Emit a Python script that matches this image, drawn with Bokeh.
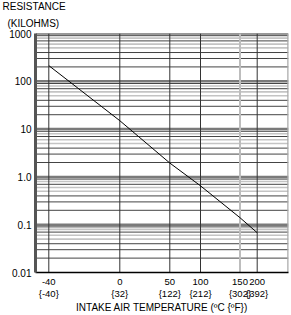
import numpy as np
from bokeh.plotting import figure
from bokeh.models import Span, Title, FixedTicker, LinearAxis, Range1d
from bokeh.embed import file_html
from bokeh.resources import INLINE

# ---- data ----
TEMP_C = [-40, 0, 50, 100, 150, 200]
RESIST_K = [213, 15, 1.95, 0.65, 0.14, 0.068]

# ---- axis definitions ----
TICK_C = [-40, 0, 50, 100, 150, 200]
TICK_C_LABELS = ["-40", "0", "50", "100", "150", "200"]
TICK_F_LABELS = ["{-40}", "{32}", "{122}", "{212}", "{302}", "{392}"]
Y_TICKS = [0.01, 0.1, 1, 10, 100, 1000]
Y_TICK_LABELS = ["0.01", "0.1", "1.0", "10", "100", "1000"]

# non-linear temperature scale of the original chart (position along the frame)
AXIS_POS = [13.3, 84.3, 134.3, 165.0, 204.5, 221.7]
X_SPAN = 253.0

FONT = "Liberation Sans"


def tpos(t):
    return np.interp(t, TICK_C, AXIS_POS)


p = figure(width=291, height=315, y_axis_type="log",
           x_range=Range1d(0, X_SPAN), y_range=Range1d(0.01, 1000),
           output_backend="svg", toolbar_location=None,
           min_border_left=35, min_border_right=3,
           min_border_top=33, min_border_bottom=43)
p.title.visible = False
p.outline_line_color = None
p.xgrid.visible = False
p.ygrid.visible = False
p.background_fill_color = "white"

# horizontal grid lines
GRAY_MINOR = {8, 6, 5}
for dec in [0.01, 0.1, 1, 10, 100]:
    for m in range(2, 10):
        gray = m in GRAY_MINOR
        p.add_layout(Span(location=dec * m, dimension="width", level="underlay",
                          line_color="#c4c4c4" if gray else "#444444",
                          line_width=1.6 if gray else 1))
for dec in [0.1, 1, 10, 100]:
    p.add_layout(Span(location=dec, dimension="width", level="underlay",
                      line_color="#7a7a7a", line_width=2.5))
p.add_layout(Span(location=1000, dimension="width", level="underlay",
                  line_color="#333333", line_width=2))

# vertical grid lines
for t in TICK_C:
    gray = (t == 150)
    p.add_layout(Span(location=float(tpos(t)), dimension="height", level="underlay",
                      line_color="#bdbdbd" if gray else "#333333",
                      line_width=2 if gray else 1))
# right border
p.add_layout(Span(location=X_SPAN, dimension="height", level="underlay",
                  line_color="#aaaaaa", line_width=2.5))

# curve
p.line(tpos(np.array(TEMP_C)), RESIST_K, line_color="black", line_width=1)

# x axes
xpos = [float(v) for v in tpos(np.array(TICK_C))]
ax = p.xaxis[0]
ax.ticker = FixedTicker(ticks=xpos)
ax.major_label_overrides = {v: s for v, s in zip(xpos, TICK_C_LABELS)}
ax.major_tick_line_color = None
ax.minor_tick_line_color = None
ax.major_tick_out = 0
ax.major_tick_in = 0
ax.minor_tick_out = 0
ax.minor_tick_in = 0
ax.axis_line_color = "black"
ax.axis_line_width = 1.5
ax.major_label_standoff = 6
ax.major_label_text_font = FONT
ax.major_label_text_font_size = "9.5px"
ax.major_label_text_color = "black"

ax2 = LinearAxis(ticker=FixedTicker(ticks=xpos),
                 major_label_overrides={v: s for v, s in zip(xpos, TICK_F_LABELS)},
                 axis_line_color=None, major_tick_line_color=None,
                 minor_tick_line_color=None, major_label_standoff=0,
                 major_tick_out=0, major_tick_in=0, minor_tick_out=0, minor_tick_in=0,
                 major_label_text_font=FONT, major_label_text_font_size="9.5px",
                 major_label_text_color="black",
                 axis_label="INTAKE AIR TEMPERATURE (\u00baC {\u00baF})",
                 axis_label_standoff=0, axis_label_text_font=FONT,
                 axis_label_text_font_size="10px",
                 axis_label_text_font_style="normal",
                 axis_label_text_color="black")
p.add_layout(ax2, "below")

# y axis
ay = p.yaxis[0]
ay.ticker = FixedTicker(ticks=Y_TICKS)
ay.major_label_overrides = {v: s for v, s in zip(Y_TICKS, Y_TICK_LABELS)}
ay.major_tick_line_color = None
ay.minor_tick_line_color = None
ay.major_tick_out = 0
ay.major_tick_in = 0
ay.minor_tick_out = 0
ay.minor_tick_in = 0
ay.axis_line_color = "#555555"
ay.axis_line_width = 3
ay.major_label_standoff = 4
ay.major_label_text_font = FONT
ay.major_label_text_font_size = "10px"
ay.major_label_text_color = "black"

# top titles (closest to the frame first)
p.add_layout(Title(text="(KILOHMS)", align="left", offset=-28, standoff=10,
                   text_font=FONT, text_font_size="10px",
                   text_font_style="normal", text_color="black"), "above")
p.add_layout(Title(text="RESISTANCE", align="left", offset=-33, standoff=-3,
                   text_font=FONT, text_font_size="10px",
                   text_font_style="normal", text_color="black"), "above")

open("out.html", "w").write(file_html(p, INLINE))
